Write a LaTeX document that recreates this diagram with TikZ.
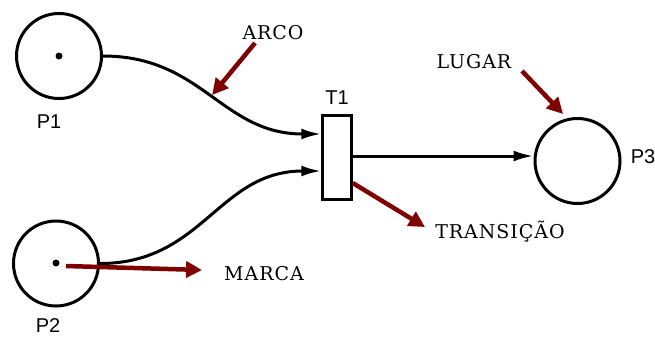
\documentclass[tikz,border=0pt]{standalone}
\usepackage{fontspec}
\setmainfont{DejaVu Serif}
\newfontfamily\labelsans{Liberation Sans}
\usetikzlibrary{arrows.meta}
\definecolor{pointred}{HTML}{7F0000}
\begin{document}
\begin{tikzpicture}[x=1pt,y=-1pt,
  place/.style={circle,draw,line width=3pt,minimum size=85pt,inner sep=0pt},
  trans/.style={rectangle,draw,line width=2.5pt,minimum width=29pt,minimum height=84pt,inner sep=0pt},
  token/.style={circle,fill,inner sep=0pt,minimum size=7pt},
  tag/.style={font=\labelsans\fontsize{20}{20}\selectfont,inner sep=0pt},
  term/.style={font=\fontsize{19}{19}\selectfont\addfontfeature{LetterSpace=5},inner sep=0pt},
  arc/.style={line width=3pt,-{Latex[length=20pt,width=11pt]}},
  pointer/.style={pointred,line width=4.5pt,-{Triangle[length=16pt,width=16pt]}}]
\useasboundingbox (0,0) rectangle (655,338);

% places, transition and tokens
\node[place] (P1) at (59,56) {};
\node[token] (m1) at (59,56) {};
\node[place] (P2) at (56,263.5) {};
\node[token] (m2) at (56,263) {};
\node[trans] (T1) at (337,157.5) {};
\node[place] (P3) at (577.5,161) {};

% names
\node[tag] (lP1) at (49,122) {P1};
\node[tag] (lP2) at (48,326) {P2};
\node[tag] (lT1) at (337,98) {T1};
\node[tag] (lP3) at (643,157) {P3};

% arcs
\draw[arc] (P1.east) to[out=0,in=180,looseness=1.1] coordinate[pos=0.5] (arcmid) ([yshift=23.5pt]T1.west);
\draw[arc] (P2.east) to[out=0,in=180,looseness=1.1] ([yshift=-13.5pt]T1.west);
\draw[arc] ([yshift=1.5pt]T1.east) -- ([yshift=1.5pt]T1.east -| P3.west);

% annotations
\node[term] (ARCO) at (273,33) {ARCO};
\node[term] (LUGAR) at (474,62) {LUGAR};
\node[term] (TRANS) at (500,232) {TRANSIÇÃO};
\node[term] (MARCA) at (264,274) {MARCA};

\coordinate (arcoTail) at (255,43);
\coordinate (lugarTail) at (522,71);
\coordinate (lugarTip) at (563,114);
\coordinate (transTip) at (425,227);

\draw[pointer] (arcoTail) -- (arcmid);
\draw[pointer] (lugarTail) -- (lugarTip);
\draw[pointer] ([yshift=-25.5pt]T1.east) -- (transTip);
\draw[pointer] ([xshift=10pt,yshift=-3pt]m2.center) -- ([xshift=-22pt,yshift=4pt]MARCA.west);
\end{tikzpicture}
\end{document}
